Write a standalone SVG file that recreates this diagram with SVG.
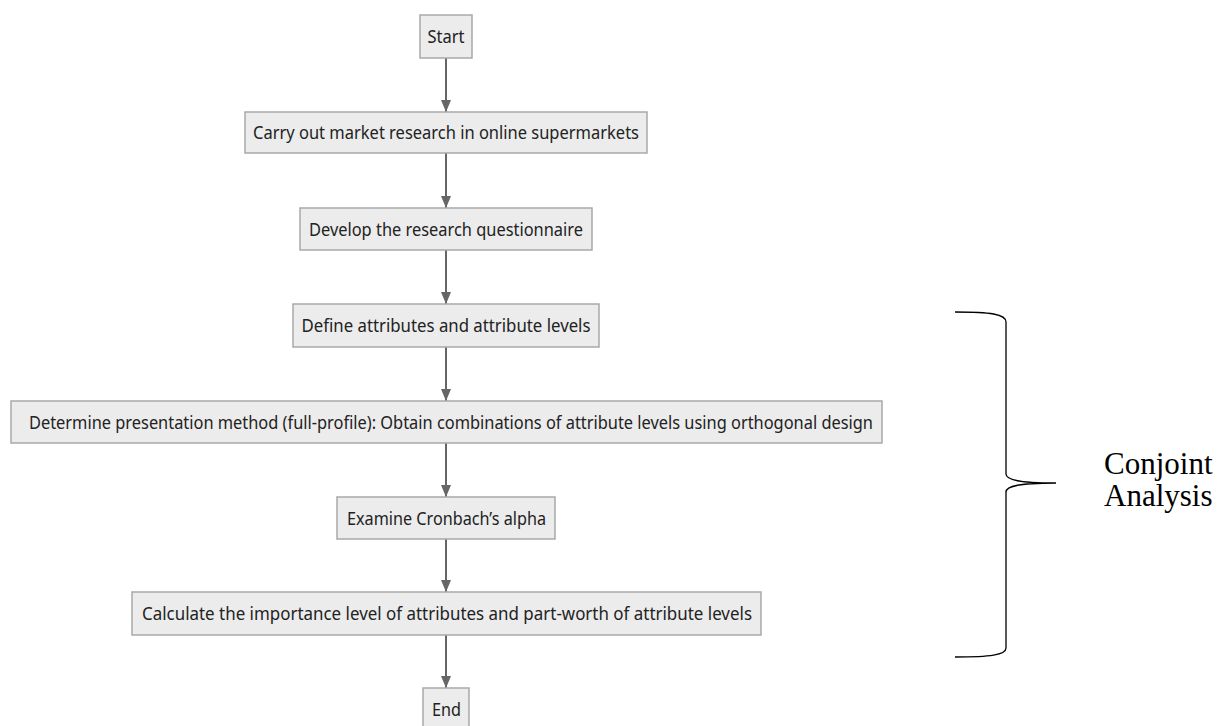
<svg xmlns="http://www.w3.org/2000/svg" width="1218" height="726" viewBox="0 0 1218 726">
<defs>
<style>
.node rect{fill:#ececec;stroke:#a9a9a9;stroke-width:1.5}
.node text{font-family:"Noto Sans","Liberation Sans",sans-serif;font-size:17.5px;fill:#222;text-anchor:middle}
.edge{stroke:#666;stroke-width:2;fill:none;marker-end:url(#arr)}
.brace{stroke:#000;stroke-width:1.3;fill:none}
.label{font-family:"Liberation Serif","Times New Roman",serif;font-size:31px;fill:#000}
</style>
<marker id="arr" viewBox="0 0 12 10" refX="12" refY="5" markerWidth="12" markerHeight="10" markerUnits="userSpaceOnUse" orient="auto">
<path d="M0,0 L12,5 L0,10 z" fill="#666"/>
</marker>
</defs>
<rect width="1218" height="726" fill="#fff"/>
<g id="connectors">
<line class="edge" x1="446" y1="58" x2="446" y2="112"/>
<line class="edge" x1="446" y1="153" x2="446" y2="208"/>
<line class="edge" x1="446" y1="250" x2="446" y2="304"/>
<line class="edge" x1="446" y1="347" x2="446" y2="401"/>
<line class="edge" x1="446" y1="443" x2="446" y2="497"/>
<line class="edge" x1="446" y1="539" x2="446" y2="592"/>
<line class="edge" x1="446" y1="635" x2="446" y2="688"/>
</g>
<g id="start" class="node"><rect x="420" y="15" width="52" height="43"/><text x="446" y="42.5" textLength="37" lengthAdjust="spacingAndGlyphs">Start</text></g>
<g id="market" class="node"><rect x="245" y="112" width="402" height="41"/><text x="446" y="138.5" textLength="386" lengthAdjust="spacingAndGlyphs">Carry out market research in online supermarkets</text></g>
<g id="questionnaire" class="node"><rect x="300" y="208" width="292" height="42"/><text x="446" y="235.5" textLength="274" lengthAdjust="spacingAndGlyphs">Develop the research questionnaire</text></g>
<g id="attributes" class="node"><rect x="293" y="304" width="306" height="43"/><text x="446" y="331.5" textLength="289" lengthAdjust="spacingAndGlyphs">Define attributes and attribute levels</text></g>
<g id="presentation" class="node"><rect x="11" y="401" width="871" height="42"/><text x="451" y="428.5" textLength="844" lengthAdjust="spacingAndGlyphs">Determine presentation method (full-profile): Obtain combinations of attribute levels using orthogonal design</text></g>
<g id="cronbach" class="node"><rect x="337" y="497" width="218" height="42"/><text x="446.5" y="524.5" textLength="199" lengthAdjust="spacingAndGlyphs">Examine Cronbach’s alpha</text></g>
<g id="importance" class="node"><rect x="132" y="592" width="629" height="43"/><text x="447" y="619.5" textLength="610" lengthAdjust="spacingAndGlyphs">Calculate the importance level of attributes and part-worth of attribute levels</text></g>
<g id="end" class="node"><rect x="423" y="688" width="46" height="42"/><text x="446.5" y="715.5" textLength="29" lengthAdjust="spacingAndGlyphs">End</text></g>
<g id="conjoint-brace">
<path class="brace" d="M955,312 C990,312 1006,314 1006,322 L1006,474 C1006,480 1020,483 1056,483 C1020,483 1006,486 1006,492 L1006,648 C1006,655 990,657 955,657"/>
<text class="label" x="1104" y="474">Conjoint</text>
<text class="label" x="1104" y="506">Analysis</text>
</g>
</svg>
